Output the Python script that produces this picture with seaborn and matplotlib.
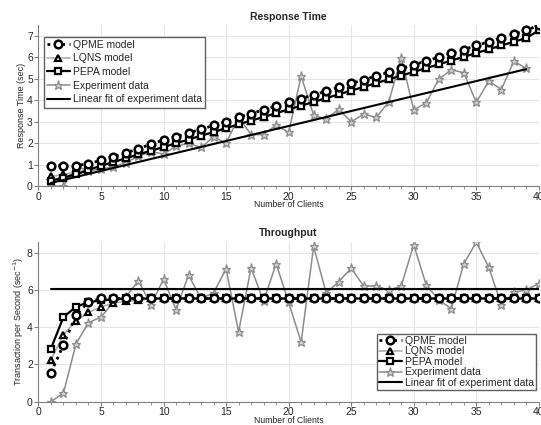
# Response time and throughput vs number of clients ====

import matplotlib.pyplot as plt
import numpy as np
import pandas as pd
import seaborn as sns

# Data ====

clients = list(range(1, 41))

rt_qpme = [0.95, 0.95, 0.95, 1.05, 1.2, 1.38, 1.55, 1.75, 1.95, 2.15,
           2.3, 2.48, 2.65, 2.83, 3.0, 3.2, 3.38, 3.55, 3.72, 3.9,
           4.08, 4.25, 4.42, 4.6, 4.78, 4.95, 5.13, 5.3, 5.48, 5.65,
           5.83, 6.0, 6.18, 6.36, 6.55, 6.72, 6.9, 7.08, 7.25, 7.5]
rt_lqns = [0.45, 0.55, 0.65, 0.8, 0.95, 1.12, 1.3, 1.48, 1.65, 1.82,
           2.0, 2.17, 2.35, 2.52, 2.7, 2.88, 3.05, 3.22, 3.4, 3.57,
           3.75, 3.92, 4.1, 4.27, 4.45, 4.62, 4.8, 4.97, 5.15, 5.32,
           5.5, 5.67, 5.85, 6.02, 6.2, 6.37, 6.55, 6.72, 6.9, 7.28]
rt_pepa = [0.25, 0.4, 0.55, 0.75, 0.95, 1.12, 1.3, 1.48, 1.65, 1.82,
           2.0, 2.17, 2.35, 2.52, 2.7, 2.88, 3.05, 3.22, 3.4, 3.57,
           3.75, 3.92, 4.1, 4.27, 4.45, 4.62, 4.8, 4.97, 5.15, 5.32,
           5.5, 5.67, 5.85, 6.02, 6.2, 6.37, 6.55, 6.72, 6.9, 7.25]
rt_exp = [0.0, 0.0, 0.95, 0.7, 0.8, 0.9, 1.1, 1.4, 1.6, 1.5,
          1.85, 2.0, 1.8, 2.3, 2.0, 3.2, 2.4, 2.4, 2.85, 2.5,
          5.12, 3.3, 3.12, 3.58, 3.0, 3.35, 3.2, 3.92, 5.98, 3.55,
          3.88, 4.98, 5.42, 5.28, 3.9, 4.9, 4.5, 5.82, 5.48]
rt_fit_x = [1, 39]
rt_fit_y = [0.15, 5.45]

tp_qpme = [1.55, 3.05, 4.65, 5.35, 5.55] + [5.55] * 35
tp_lqns = [2.25, 3.6, 4.35, 4.8, 5.1, 5.3, 5.4, 5.45] + [5.55] * 32
tp_pepa = [2.85, 4.55, 5.1, 5.35, 5.45, 5.5] + [5.55] * 34
tp_exp = [0.0, 0.45, 3.1, 4.25, 4.55, 5.35, 5.65, 6.5, 5.2, 6.6,
          4.95, 6.8, 5.55, 5.85, 7.15, 3.75, 7.2, 5.4, 7.42, 5.35,
          3.2, 8.35, 5.85, 6.45, 7.18, 6.22, 6.22, 6.0, 6.22, 8.45,
          6.27, 5.48, 5.0, 7.42, 8.58, 7.22, 5.22, 5.88, 6.02, 6.35]
tp_fit_x = [1, 40]
tp_fit_y = [6.08, 6.08]

labels = ["QPME model", "LQNS model", "PEPA model", "Experiment data",
          "Linear fit of experiment data"]

# Style ====

sns.set_style("whitegrid", {"grid.color": "#e6e6e6", "axes.edgecolor": "#808080"})
plt.rcParams["font.family"] = ["Liberation Sans", "DejaVu Sans"]

fig = plt.figure(figsize=(5.41, 4.25), dpi=100)
ax1 = fig.add_axes([0.071, 0.562, 0.925, 0.379])
ax2 = fig.add_axes([0.071, 0.055, 0.925, 0.376])


def draw(ax, qpme, lqns, pepa, exp, fit_x, fit_y):
    sns.lineplot(x=clients, y=qpme, ax=ax, color="black", linestyle=":", lw=2,
                 marker="o", ms=5.5, mfc="white", mec="black", mew=1.8,
                 label=labels[0], zorder=4)
    sns.lineplot(x=clients, y=lqns, ax=ax, color="#b0b0b0", lw=1.2,
                 marker="^", ms=5, mfc="white", mec="black", mew=1.6,
                 label=labels[1], zorder=3)
    sns.lineplot(x=clients, y=pepa, ax=ax, color="black", lw=1.6,
                 marker="s", ms=4.8, mfc="white", mec="black", mew=1.6,
                 label=labels[2], zorder=3)
    sns.lineplot(x=clients[:len(exp)], y=exp, ax=ax, color="#8c8c8c", lw=1.1,
                 marker="*", ms=6.5, mfc="#d0d0d0", mec="#8c8c8c", mew=0.9,
                 label=labels[3], zorder=2)
    sns.lineplot(x=fit_x, y=fit_y, ax=ax, color="black", lw=1.5,
                 label=labels[4], zorder=5)
    ax.set_xlim(0, 40)
    ax.set_xticks(range(0, 41, 5))
    ax.set_xticks(range(0, 41), minor=True)
    ax.tick_params(axis="both", labelsize=7.5, length=3, color="#808080",
                   bottom=True, left=True, pad=1)
    ax.tick_params(axis="x", which="minor", length=2, bottom=True, color="#808080")
    ax.set_xlabel("Number of Clients", fontsize=6.2, labelpad=-1)
    for s in ["top", "right"]:
        ax.spines[s].set_visible(False)


draw(ax1, rt_qpme, rt_lqns, rt_pepa, rt_exp, rt_fit_x, rt_fit_y)
ax1.set_ylim(0, 7.5)
ax1.set_yticks(range(0, 8))
ax1.set_ylabel("Response Time (sec)", fontsize=6.5, labelpad=1)
ax1.set_title("Response Time", fontsize=7.5, fontweight="bold", pad=4)
ax1.legend(loc="upper left", fontsize=7.5, frameon=True, fancybox=False,
           edgecolor="#606060", framealpha=1, handlelength=2.2,
           borderpad=0.3, labelspacing=0.35, handletextpad=0.3,
           bbox_to_anchor=(0.0, 0.96))

draw(ax2, tp_qpme, tp_lqns, tp_pepa, tp_exp, tp_fit_x, tp_fit_y)
ax2.set_ylim(0, 8.6)
ax2.set_yticks([0, 2, 4, 6, 8])
ax2.set_ylabel("Transaction per Second (sec$^{-1}$)", fontsize=6.5, labelpad=1)
ax2.set_title("Throughput", fontsize=7.5, fontweight="bold", pad=4)
ax2.legend(loc="lower right", fontsize=7.5, frameon=True, fancybox=False,
           edgecolor="#606060", framealpha=1, handlelength=2.2,
           borderpad=0.2, labelspacing=0.05, handletextpad=0.3,
           bbox_to_anchor=(1.005, 0.04))

fig.savefig("out.png", dpi=100)
